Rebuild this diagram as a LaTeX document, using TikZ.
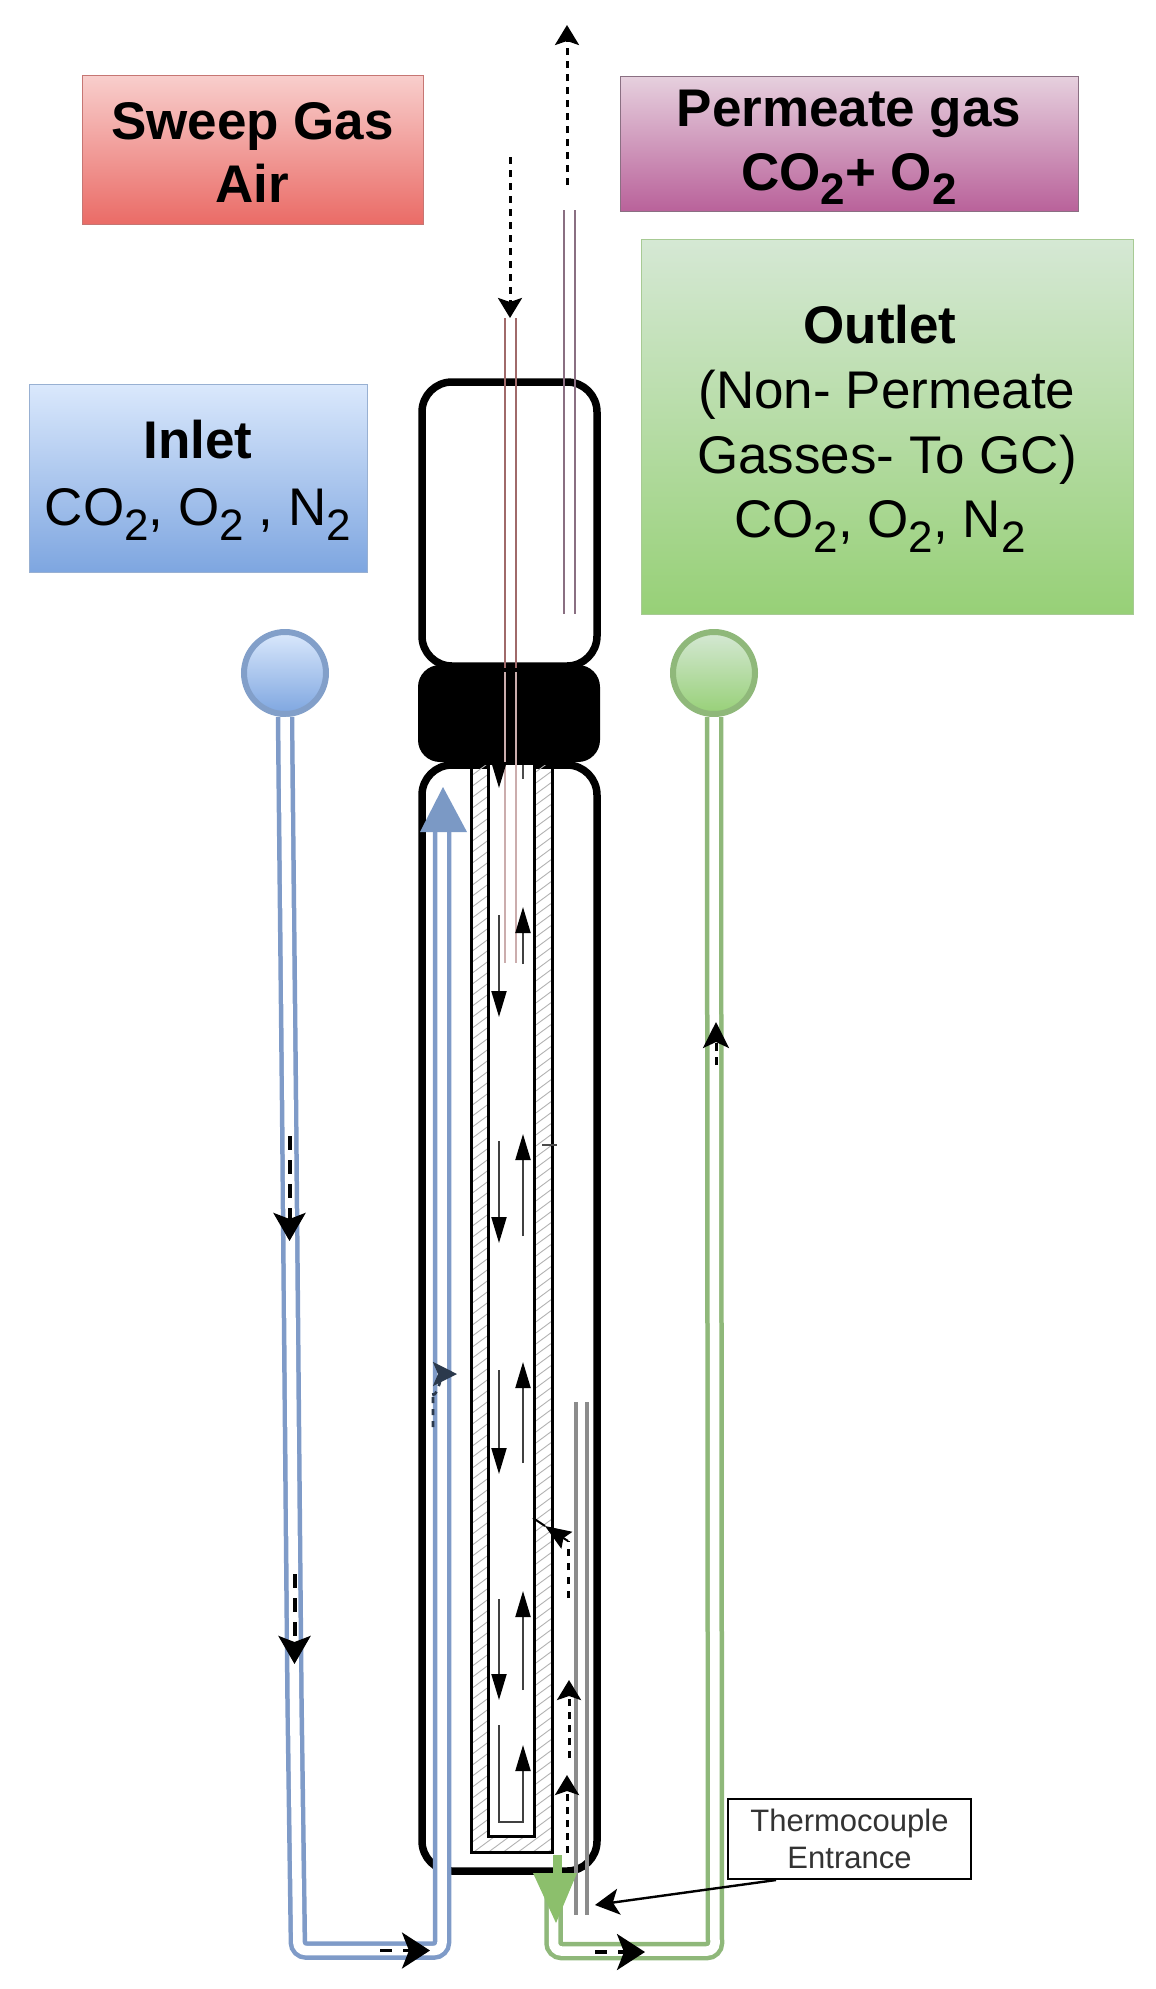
\documentclass[tikz,border=0pt]{standalone}
\usepackage{fontspec}
\setmainfont{Liberation Sans}
\usetikzlibrary{arrows.meta}
\newcommand{\subtwo}{\raisebox{-.27em}{\fontsize{44}{44}\selectfont 2}}
\definecolor{bluel}{HTML}{7F9BC8}
\definecolor{blued}{HTML}{6C8EBF}
\definecolor{greenl}{HTML}{8FB87A}
\definecolor{greena}{HTML}{8CBF6C}
\definecolor{greend}{HTML}{82B366}
\definecolor{tuber}{HTML}{A06A6A}
\definecolor{tubep}{HTML}{8A6F82}
\definecolor{redtop}{HTML}{F8CECC}
\definecolor{redbot}{HTML}{EA6B66}
\definecolor{redline}{HTML}{B85450}
\definecolor{magtop}{HTML}{E6D0DE}
\definecolor{magbot}{HTML}{B9629A}
\definecolor{grntop}{HTML}{D5E8D4}
\definecolor{grnbot}{HTML}{97D077}
\definecolor{blutop}{HTML}{DAE8FC}
\definecolor{blubot}{HTML}{7EA6E0}
\tikzset{
  x=1pt,y=-1pt,
  labelbox/.style={draw=#1,line width=1pt,inner sep=0pt,align=center,
    font=\fontsize{53}{64}\selectfont},
  wall/.style={draw=black,line width=3pt},
  flowtip/.style={draw=black!75,line width=2pt,-{Triangle[length=26pt,width=15pt,color=black,fill=black]}},
  dashflow/.style={draw=black,line width=3pt,dash pattern=on 7pt off 6pt,
    -{Stealth[length=20pt,width=24pt,inset=4pt]}},
  bigflow/.style={draw=black,line width=3.5pt,dash pattern=on 12pt off 11pt,
    -{Stealth[length=28pt,width=36pt,inset=7pt]}},
  inflow/.style={draw=black,line width=4pt,dash pattern=on 14pt off 10pt,
    -{Stealth[length=28pt,width=32pt,inset=6pt]}},
  bluetube/.style={draw=bluel,line width=4.5pt,double=white,double distance=9.5pt,rounded corners=8pt},
  greentube/.style={draw=greenl,line width=4.5pt,double=white,double distance=9.5pt,rounded corners=8pt},
  thermotube/.style={draw=black!45,line width=4.5pt},
  redtube/.style={draw=tuber,line width=1.6pt},
  permtube/.style={draw=tubep,line width=1.6pt},
}
\begin{document}
\begin{tikzpicture}
\useasboundingbox (0,0) rectangle (1156,1989);

% label boxes
\node[labelbox=redline!80,minimum width=341pt,minimum height=149pt,shade,top color=redtop,bottom color=redbot] (sweep) at (252.5,150) {\rule{0pt}{42pt}\textbf{Sweep Gas}\\[-1pt]\textbf{Air}};
\node[labelbox=tubep,minimum width=458pt,minimum height=135pt,shade,top color=magtop,bottom color=magbot] (perm) at (849,143.5) {\rule{0pt}{44pt}\textbf{Permeate gas}\\\textbf{CO\subtwo{}+ O\subtwo}};
\node[labelbox=greend!70,minimum width=492pt,minimum height=375pt,shade,top color=grntop,bottom color=grnbot] (outlet) at (887,426.5) {\rule{0pt}{43pt}\textbf{Outlet}\hspace*{14pt}\\[1pt](Non- Permeate\\[1pt]Gasses- To GC)\\[0pt]CO\subtwo, O\subtwo, N\subtwo\hspace*{14pt}};
\node[labelbox=blued!70,minimum width=338pt,minimum height=188pt,shade,top color=blutop,bottom color=blubot] (inlet) at (198,478) {\rule{0pt}{43pt}\textbf{Inlet}\\[3pt]CO\subtwo, O\subtwo{} , N\subtwo};

% port circles
\node[circle,draw=blued!85,line width=6pt,minimum size=82pt,inner sep=0pt,shade,top color=blutop,bottom color=blubot] (inport) at (285,673) {};
\node[circle,draw=greenl,line width=6pt,minimum size=82pt,inner sep=0pt,shade,top color=grntop,bottom color=grnbot] (outport) at (714,673) {};

% reactor body
\node[draw=black,fill=white,line width=7.5pt,rounded corners=30pt,minimum width=175pt,minimum height=284pt,inner sep=0pt] (upper) at (509.5,524) {};
\node[draw=black,fill=white,line width=7.5pt,rounded corners=30pt,minimum width=175pt,minimum height=1106pt,inner sep=0pt] (lower) at (509.5,1318) {};
\node[fill=black,rounded corners=22pt,minimum width=182pt,minimum height=97pt,inner sep=0pt] (seal) at (509,713.5) {};

% hatched membrane tube
\begin{scope}
\clip (471,765) rectangle (552,1852);
\foreach \k in {0,...,104} {
  \pgfmathsetmacro{\ya}{765+11*\k}
  \pgfmathsetmacro{\yb}{\ya-60}
  \draw[black!30,line width=.9pt] (471,\ya) -- (552,\yb);
}
\end{scope}
\fill[white] (488,765) rectangle (534,1836);
\draw[wall] (471,765) -- (471,1852) -- (552,1852) -- (552,765);
\draw[wall] (488,765) -- (488,1836) -- (534,1836) -- (534,765);

% sweep and permeate tubes
\coordinate (ra) at (505,318); \coordinate (rb) at (505,668);
\coordinate (rc) at (516,318); \coordinate (rd) at (516,668);
\draw[redtube] (ra) -- (rb);
\draw[redtube] (rc) -- (rd);
\draw[draw=tuber!55!white,line width=1.8pt] (505,672) -- (505,963) (516,672) -- (516,963);
\coordinate (pa) at (564,210); \coordinate (pb) at (564,614);
\coordinate (pc) at (575,210); \coordinate (pd) at (575,614);
\draw[permtube] (pa) -- (pb);
\draw[permtube] (pc) -- (pd);

% top dashed arrows
\coordinate (sa) at (510,157); \coordinate (sb) at (510,318);
\coordinate (ua) at (567,185); \coordinate (ub) at (567,25);
\draw[dashflow] (sa) -- (sb);
\draw[dashflow] (ua) -- (ub);

% inner flow arrows
\foreach \n/\ya/\yb in {1/762/788,2/915/1017,3/1141/1243,4/1370/1474,5/1599/1700} {
  \coordinate (da\n) at (499,\ya); \coordinate (db\n) at (499,\yb);
  \draw[flowtip] (da\n) -- (db\n);
}
\foreach \n/\ya/\yb in {1/964/907,2/1236/1134,3/1463/1362,4/1690/1591} {
  \coordinate (ea\n) at (523,\ya); \coordinate (eb\n) at (523,\yb);
  \draw[flowtip] (ea\n) -- (eb\n);
}
\draw[draw=black!70,line width=2pt] (523,765) -- (523,779);
\coordinate (ua1) at (499,1725); \coordinate (ua2) at (523,1745);
\draw[flowtip] (ua1) -- (499,1822) -- (523,1822) -- (ua2);
\draw[black!70,line width=2pt] (542,1145) -- (557,1145);

% thermocouple tubes
\coordinate (ta) at (576,1402); \coordinate (tb) at (576,1915);
\coordinate (tc) at (587,1402); \coordinate (td) at (587,1915);
\draw[thermotube] (ta) -- (tb);
\draw[thermotube] (tc) -- (td);

% dashed arrows near thermocouple
\coordinate (fa) at (569,1758); \coordinate (fb) at (569,1680);
\coordinate (ga) at (567,1853); \coordinate (gb) at (567,1775);
\draw[dashflow] (fa) -- (fb);
\draw[dashflow] (ga) -- (gb);
\coordinate (ha) at (568,1598); \coordinate (hm) at (568,1541); \coordinate (hb) at (533,1518);
\draw[draw=black,line width=3pt,dash pattern=on 7pt off 7pt] (ha) -- (hm);
\draw[draw=black,line width=2pt,-{Stealth[length=26pt,width=20pt,inset=4pt]}] (hm) -- (545,1526);
\draw[draw=black,line width=2pt] (545,1526) -- (hb);

% inlet tube
\coordinate (bt) at (442,826);
\draw[bluetube] (inport.south) -- (289,1100) -- (294.5,1700) -- (298,1950.5) -- (442,1950.5) -- (bt);
\fill[blued!90!white] (443,787) -- (467,832) -- (420,832) -- cycle;

% outlet tube
\coordinate (gt) at (553.5,1880);
\draw[greentube] (outport.south) -- (715,1951) -- (553.5,1951) -- (gt);
\draw[greena,line width=9pt] (557,1855) -- (557,1885);
\fill[greena] (533,1873) -- (577,1873) -- (556,1923) -- cycle;

% flow arrows on the outer tubes
\coordinate (ia) at (289.5,1136); \coordinate (ib) at (289.5,1241);
\draw[inflow] (ia) -- (ib);
\coordinate (ic) at (294.5,1574); \coordinate (id) at (294.5,1664);
\draw[inflow] (ic) -- (id);
\coordinate (ja) at (380,1950.5); \coordinate (jb) at (430,1950.5);
\draw[bigflow] (ja) -- (jb);
\coordinate (ka) at (595,1952); \coordinate (kb) at (645,1952);
\draw[bigflow] (ka) -- (kb);
\coordinate (la) at (716,1065); \coordinate (lb) at (716,1022);
\draw[draw=black,line width=3pt,dash pattern=on 8pt off 6pt,-{Stealth[length=26pt,width=26pt,inset=6pt]}] (la) -- (lb);
\coordinate (ma) at (433,1427); \coordinate (mb) at (457,1374);
\draw[draw=blued!40!black,line width=2.6pt,dash pattern=on 6pt off 6pt,-{Stealth[length=24pt,width=24pt,inset=5pt]}] (ma) -- (433,1392) to[out=-90,in=180] (mb);

% thermocouple label
\node[draw=black,line width=1.5pt,fill=white,minimum width=243pt,minimum height=80pt,inner sep=0pt,align=center,font=\fontsize{31}{37}\selectfont,text=black!80] (thermo) at (849.5,1839) {Thermocouple\\Entrance};
\coordinate (tip) at (595,1905);
\coordinate (tstart) at (776,1880);
\draw[draw=black,line width=2.4pt,-{Stealth[length=24pt,width=26pt,inset=6pt]}] (tstart) -- (tip);
\end{tikzpicture}
\end{document}
